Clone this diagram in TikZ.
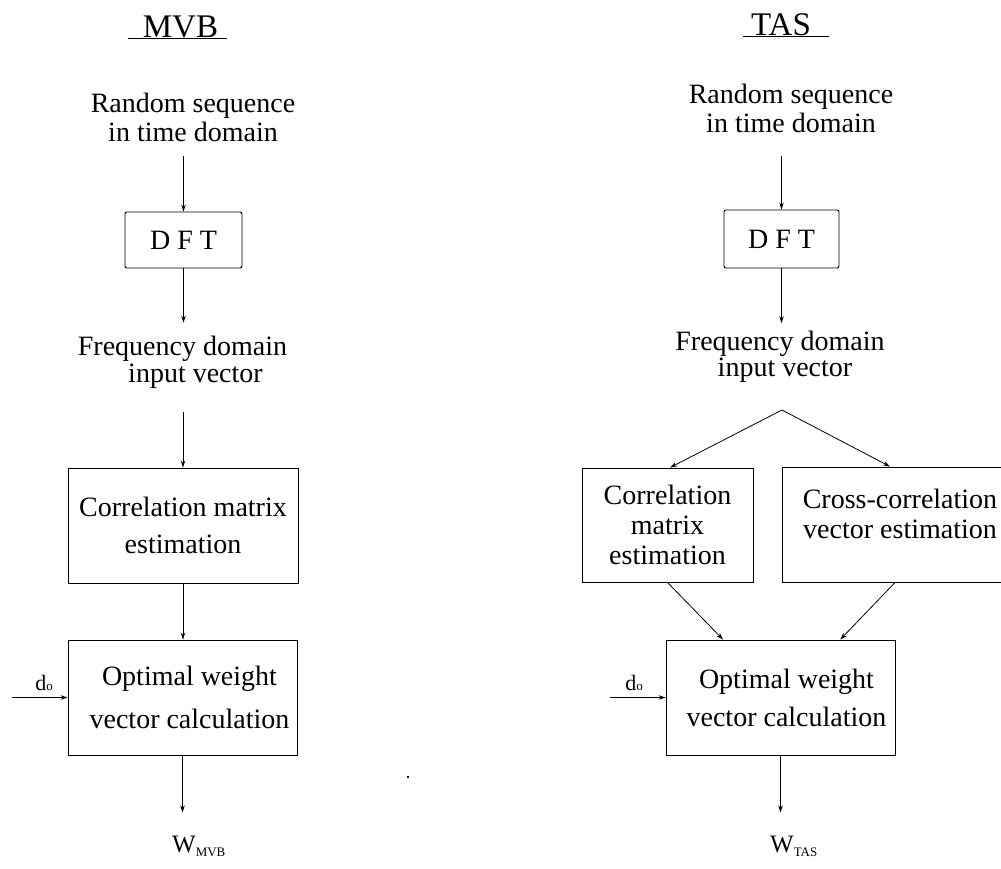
\documentclass[tikz,border=0pt]{standalone}
\usepackage{fontspec}
\setmainfont{Liberation Serif}
\usetikzlibrary{arrows.meta,calc}
\begin{document}
\begin{tikzpicture}[x=1pt,y=-1pt,
  box/.style={draw, line width=0.9pt, inner sep=0pt, align=center},
  txt/.style={inner sep=2pt, align=center},
  ttl/.style={inner sep=0pt, font=\fontsize{33}{36}\selectfont},
  arr/.style={-{Stealth[length=7pt,width=4.5pt]}, line width=0.8pt},
  ln/.style={line width=0.8pt},
  dlab/.style={inner sep=0pt, font=\fontsize{22}{24}\selectfont},
  wlab/.style={inner sep=2pt, font=\fontsize{25}{27}\selectfont}]
\useasboundingbox (0,0) rectangle (1001,868);
\clip (0,0) rectangle (1001,868);

% ---------------- MVB (left) ----------------
\node[ttl, anchor=base] (tM) at (180.5,37) {MVB};
\draw[ln] ([xshift=-15pt,yshift=-1pt]tM.base west) -- ([xshift=9pt,yshift=-1pt]tM.base east);

\node[txt, font=\fontsize{28}{29}\selectfont] (rsL) at (193,117) {Random sequence\\in time domain};
\node[box, rounded corners=2pt, minimum width=117pt, minimum height=56pt, font=\fontsize{28}{30}\selectfont] (dftL) at (183.5,240) {D F T};
\node[txt, font=\fontsize{28}{27}\selectfont] (freqL) at (182.5,362) {Frequency domain\\\hspace*{26pt}input vector};
\node[box, minimum width=230pt, minimum height=115pt, font=\fontsize{28}{37}\selectfont] (corrL) at (183,525.5) {Correlation matrix\\estimation};
\node[box, minimum width=229pt, minimum height=115pt, font=\fontsize{28}{43}\selectfont] (optL) at (182.5,697.5) {\hspace*{14pt}Optimal weight\\\hspace*{14pt}vector calculation};
\node[dlab, anchor=base] (dL) at (44,690) {d{\fontsize{13}{13}\selectfont o}};
\coordinate (dinL) at (12,697.5);
\node[wlab, anchor=base west] (wL) at (170,852) {W\raisebox{-4pt}{\fontsize{13}{13}\selectfont MVB}};

\draw[arr, shorten <=12pt] (rsL.south -| dftL.north) -- (dftL.north);
\draw[arr, shorten >=11pt] (dftL.south) -- (dftL.south |- freqL.north);
\draw[arr, shorten <=22pt] (freqL.south -| corrL.north) -- (corrL.north);
\draw[arr] (corrL.south) -- (corrL.south |- optL.north);
\draw[arr] (dinL) -- (optL.west);
\draw[arr, shorten >=21pt] (optL.south) -- (optL.south |- wL.north);

% ---------------- TAS (right) ----------------
\node[ttl, anchor=base] (tT) at (781,35) {TAS};
\draw[ln] ([xshift=-8pt,yshift=-1pt]tT.base west) -- ([xshift=18pt,yshift=-1pt]tT.base east);

\node[txt, font=\fontsize{28}{29}\selectfont] (rsR) at (791,108) {Random sequence\\in time domain};
\node[box, rounded corners=2pt, minimum width=115pt, minimum height=58pt, font=\fontsize{28}{30}\selectfont] (dftR) at (781.5,239) {D F T};
\node[txt, font={\fontsize{28}{26}\selectfont\lineskiplimit=-100pt}] (freqR) at (780,357) {Frequency domain\\\hspace*{10pt}input vector};
\coordinate (apex) at (782,410);
\node[box, minimum width=171pt, minimum height=114pt, font=\fontsize{28}{30}\selectfont] (corrR) at (667.5,525) {Correlation\\matrix\\estimation};
\node[box, minimum width=236pt, minimum height=115pt, font=\fontsize{28}{30}\selectfont] (crossR) at (900,524.5) {Cross-correlation\\vector estimation\rule[-22pt]{0pt}{0pt}};
\node[box, minimum width=229pt, minimum height=115pt, font=\fontsize{28}{38}\selectfont] (optR) at (780.5,697.5) {\hspace*{12pt}Optimal weight\\\hspace*{12pt}vector calculation};
\node[dlab, anchor=base] (dR) at (634,690) {d{\fontsize{13}{13}\selectfont o}};
\coordinate (dinR) at (610,697.5);
\node[wlab, anchor=base west] (wR) at (768,852) {W\raisebox{-4pt}{\fontsize{13}{13}\selectfont TAS}};

\draw[arr, shorten <=21pt] (rsR.south -| dftR.north) -- (dftR.north);
\draw[arr, shorten >=6pt] (dftR.south) -- (dftR.south |- freqR.north);
\draw[arr] (apex) -- ([xshift=2.5pt]corrR.north);
\draw[arr] (apex) -- ([xshift=-10pt]crossR.north);
\draw[arr] (corrR.south) -- ($(optR.north west)!0.25!(optR.north east)$);
\draw[arr] ([xshift=-5pt]crossR.south) -- ($(optR.north west)!0.76!(optR.north east)$);
\draw[arr] (dinR) -- (optR.west);
\draw[arr, shorten >=21pt] (optR.south) -- (optR.south |- wR.north);

\fill (408,777) circle (1.3pt);
\end{tikzpicture}
\end{document}
